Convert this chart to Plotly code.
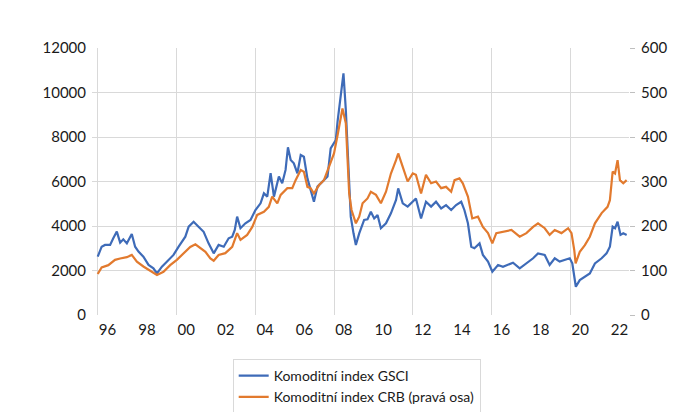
import plotly.graph_objects as go

# ---- data (decimal years) ----
gsci_years = [1996.00, 1996.20, 1996.37, 1996.63, 1996.79, 1996.97, 1997.14, 1997.30, 1997.48, 1997.73,
              1997.90, 1998.07, 1998.32, 1998.58, 1998.83, 1999.01, 1999.26, 1999.52, 1999.85, 2000.11,
              2000.45, 2000.62, 2000.87, 2001.12, 2001.38, 2001.63, 2001.89, 2002.14, 2002.40, 2002.65,
              2002.83, 2002.96, 2003.08, 2003.25, 2003.50, 2003.76, 2004.01, 2004.27, 2004.44, 2004.61,
              2004.78, 2004.95, 2005.20, 2005.37, 2005.54, 2005.66, 2005.80, 2005.96, 2006.14, 2006.31,
              2006.47, 2006.65, 2006.81, 2006.98, 2007.16, 2007.41, 2007.67, 2007.83, 2008.09, 2008.18,
              2008.34, 2008.48, 2008.60, 2008.68, 2008.77, 2008.85, 2008.99, 2009.11, 2009.28, 2009.53,
              2009.70, 2009.87, 2010.04, 2010.21, 2010.38, 2010.64, 2010.89, 2011.15, 2011.26, 2011.49,
              2011.74, 2011.91, 2012.16, 2012.42, 2012.67, 2012.93, 2013.18, 2013.44, 2013.69, 2013.95,
              2014.20, 2014.46, 2014.62, 2014.80, 2014.97, 2015.13, 2015.39, 2015.56, 2015.82, 2016.04,
              2016.33, 2016.58, 2016.84, 2017.09, 2017.43, 2017.77, 2018.11, 2018.36, 2018.70, 2018.95,
              2019.21, 2019.46, 2019.72, 2019.97, 2020.10, 2020.20, 2020.28, 2020.48, 2020.74, 2020.99,
              2021.25, 2021.59, 2021.84, 2022.01, 2022.15, 2022.27, 2022.40, 2022.55, 2022.69, 2022.86]
gsci_values = [2620, 3070, 3150, 3150, 3450, 3750, 3250, 3400, 3220, 3640,
               3070, 2850, 2620, 2250, 2100, 1870, 2170, 2400, 2700, 3070,
               3520, 3970, 4190, 3970, 3740, 3220, 2770, 3150, 3070, 3450,
               3520, 3820, 4420, 3900, 4120, 4270, 4720, 5020, 5470, 5320,
               6370, 5320, 6220, 5920, 6520, 7540, 6970, 6820, 6370, 7190,
               7110, 6140, 5620, 5090, 5770, 5990, 6220, 7490, 7860, 8690,
               9960, 10860, 9210, 7420, 5470, 4420, 3670, 3150, 3670, 4270,
               4300, 4640, 4340, 4490, 3900, 4120, 4570, 5170, 5690, 5020,
               4870, 5020, 5240, 4340, 5090, 4870, 5090, 4790, 4940, 4720,
               4940, 5090, 4720, 4120, 3070, 3000, 3220, 2700, 2400, 1950,
               2250, 2170, 2250, 2350, 2100, 2320, 2550, 2770, 2700, 2250,
               2550, 2400, 2470, 2550, 2320, 1720, 1270, 1570, 1720, 1870,
               2320, 2550, 2770, 3070, 3970, 3900, 4190, 3600, 3670, 3600]

crb_years = [1996.00, 1996.20, 1996.54, 1996.88, 1997.14, 1997.48, 1997.73, 1997.99, 1998.32, 1998.66,
             1999.01, 1999.34, 1999.68, 2000.02, 2000.36, 2000.70, 2000.96, 2001.21, 2001.47, 2001.72,
             2001.89, 2002.14, 2002.48, 2002.83, 2003.08, 2003.25, 2003.59, 2003.85, 2004.10, 2004.44,
             2004.69, 2004.86, 2005.12, 2005.29, 2005.63, 2005.88, 2006.05, 2006.31, 2006.47, 2006.65,
             2006.81, 2006.98, 2007.24, 2007.49, 2007.75, 2008.00, 2008.18, 2008.43, 2008.60, 2008.68,
             2008.77, 2008.89, 2009.11, 2009.28, 2009.45, 2009.70, 2009.87, 2010.13, 2010.38, 2010.64,
             2010.89, 2011.15, 2011.26, 2011.49, 2011.74, 2012.00, 2012.16, 2012.42, 2012.67, 2012.93,
             2013.18, 2013.44, 2013.69, 2013.95, 2014.12, 2014.37, 2014.54, 2014.80, 2015.02, 2015.31,
             2015.56, 2015.82, 2016.04, 2016.24, 2016.58, 2017.01, 2017.43, 2017.77, 2018.11, 2018.36,
             2018.70, 2018.95, 2019.21, 2019.55, 2019.89, 2020.06, 2020.20, 2020.27, 2020.48, 2020.74,
             2020.99, 2021.25, 2021.59, 2021.89, 2022.01, 2022.15, 2022.27, 2022.40, 2022.52, 2022.69,
             2022.86]
crb_values = [92, 107, 112, 124, 127, 130, 135, 120, 109, 100,
              90, 97, 112, 124, 139, 153, 159, 150, 142, 127,
              122, 135, 139, 153, 184, 169, 180, 198, 225, 232,
              243, 266, 251, 270, 285, 285, 303, 326, 322, 288,
              285, 273, 292, 303, 333, 363, 404, 464, 431, 356,
              273, 236, 206, 221, 251, 262, 277, 270, 251, 277,
              318, 348, 363, 333, 300, 318, 315, 273, 315, 296,
              300, 285, 288, 277, 303, 307, 296, 266, 217, 221,
              198, 184, 161, 184, 187, 191, 176, 184, 198, 206,
              195, 180, 191, 184, 195, 184, 146, 116, 142, 157,
              176, 206, 229, 243, 258, 322, 318, 348, 303, 296,
              303]

label_years = [1996.5 + 2 * i for i in range(14)]
label_text = ["96", "98", "00", "02", "04", "06", "08", "10", "12", "14", "16", "18", "20", "22"]
grid_years = [1996, 2000, 2004, 2008, 2012, 2016, 2020]
left_ticks = [0, 2000, 4000, 6000, 8000, 10000, 12000]
left_text = ["0", "2000", "4000", "6000", "8000", "10000", "12000"]
right_ticks = [0, 100, 200, 300, 400, 500, 600]
right_text = ["0", "100", "200", "300", "400", "500", "600"]

names = ["Komoditní index GSCI", "Komoditní index CRB (pravá osa)"]

FONT = "Lato, 'Open Sans', sans-serif"
GRID = "#d9d9d9"
TXT = "#1a1a1a"

fig = go.Figure()
fig.add_trace(go.Scatter(x=gsci_years, y=gsci_values, name=names[0], mode="lines",
                         line=dict(color="#3E6BB8", width=2.2)))
fig.add_trace(go.Scatter(x=crb_years, y=crb_values, name=names[1], mode="lines", yaxis="y2",
                         line=dict(color="#E27A2E", width=2.2)))

# the page body adds an 8px margin, so the figure is 8px smaller on each side
fig.update_layout(
    width=690, height=404,
    margin=dict(l=84, r=69, t=40, b=97, autoexpand=False),
    paper_bgcolor="white", plot_bgcolor="white",
    font=dict(family=FONT, size=15, color=TXT),
    showlegend=True,
    legend=dict(x=0.262, y=-0.165, xanchor="left", yanchor="top",
                bordercolor="#d9d9d9", borderwidth=1, font=dict(size=14, color=TXT),
                itemwidth=30, tracegroupgap=0),
    xaxis=dict(range=[1995.71, 2022.98], tickmode="array", tickvals=label_years, ticktext=label_text,
               showgrid=False, zeroline=False, showline=False, ticks="", ticklabelstandoff=4,
               minor=dict(tickmode="array", tickvals=grid_years, showgrid=True,
                          gridcolor=GRID, gridwidth=1, ticks="")),
    yaxis=dict(range=[0, 12000], tickmode="array", tickvals=left_ticks, ticktext=left_text,
               showgrid=False, zeroline=False, showline=False, ticks="", ticklabelstandoff=5,
               minor=dict(tickmode="array", tickvals=[2000, 4000, 6000, 8000, 10000],
                          showgrid=True, gridcolor=GRID, gridwidth=1, ticks="")),
    yaxis2=dict(range=[0, 600], tickmode="array", tickvals=right_ticks, ticktext=right_text,
                overlaying="y", side="right",
                showgrid=False, zeroline=False, showline=False, ticks="outside", ticklen=5,
                tickcolor="#bfbfbf", tickwidth=1, ticklabelstandoff=3),
)

fig.write_html("out.html")
